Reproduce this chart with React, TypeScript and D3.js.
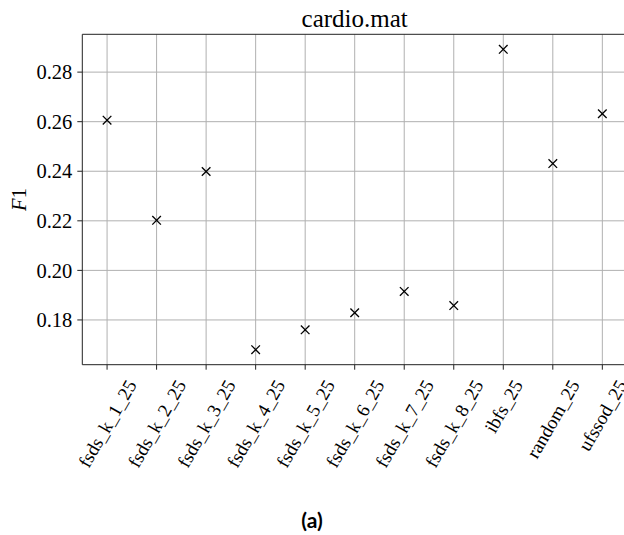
import React, { useEffect, useRef } from "react";
import * as d3 from "d3";

const categories = [
  "fsds_k_1_25",
  "fsds_k_2_25",
  "fsds_k_3_25",
  "fsds_k_4_25",
  "fsds_k_5_25",
  "fsds_k_6_25",
  "fsds_k_7_25",
  "fsds_k_8_25",
  "ibfs_25",
  "random_25",
  "ufssod_25",
];
const f1Values = [0.2606, 0.2202, 0.2399, 0.168, 0.176, 0.1829, 0.1915, 0.1858, 0.2892, 0.2431, 0.2632];
const yTicks = [0.18, 0.2, 0.22, 0.24, 0.26, 0.28];
const yTickLabels = ["0.18", "0.20", "0.22", "0.24", "0.26", "0.28"];
const title = "cardio.mat";
const caption = "(a)";

const W = 624;
const H = 535;
const left = 82.3;
const right = 627.1;
const top = 34.3;
const bottom = 364.7;
const SERIF = "Liberation Serif";

export default function App() {
  const ref = useRef<SVGSVGElement | null>(null);

  useEffect(() => {
    const svg = d3.select(ref.current);
    svg.selectAll("*").remove();

    const n = categories.length;
    const x = d3.scaleLinear().domain([-0.5, n - 0.5]).range([left, right]);
    const [mn, mx] = d3.extent(f1Values) as [number, number];
    const pad = (mx - mn) * 0.05;
    const y = d3.scaleLinear().domain([mn - pad, mx + pad]).range([bottom, top]);

    const g = svg.append("g");

    g.selectAll("line.gx")
      .data(categories)
      .enter()
      .append("line")
      .attr("x1", (_d, i) => x(i))
      .attr("x2", (_d, i) => x(i))
      .attr("y1", top)
      .attr("y2", bottom)
      .attr("stroke", "#b0b0b0")
      .attr("stroke-width", 1);
    g.selectAll("line.gy")
      .data(yTicks)
      .enter()
      .append("line")
      .attr("x1", left)
      .attr("x2", right)
      .attr("y1", (d) => y(d))
      .attr("y2", (d) => y(d))
      .attr("stroke", "#b0b0b0")
      .attr("stroke-width", 1);

    const spine = (x1: number, y1: number, x2: number, y2: number) =>
      g.append("line").attr("x1", x1).attr("x2", x2).attr("y1", y1).attr("y2", y2).attr("stroke", "#222").attr("stroke-width", 1);
    spine(left, top, left, bottom);
    spine(left, top, right, top);
    spine(left, bottom, right, bottom);
    spine(right, top, right, bottom);

    const tickLen = 5;
    yTicks.forEach((t, i) => {
      g.append("line").attr("x1", left - tickLen).attr("x2", left).attr("y1", y(t)).attr("y2", y(t)).attr("stroke", "#222").attr("stroke-width", 1);
      g.append("text")
        .attr("x", left - tickLen - 5)
        .attr("y", y(t) + 7.2)
        .attr("text-anchor", "end")
        .attr("font-family", SERIF)
        .attr("font-size", 20.5)
        .attr("fill", "#000")
        .text(yTickLabels[i]);
    });

    const fsX = 19;
    categories.forEach((c, i) => {
      const cx = x(i);
      g.append("line").attr("x1", cx).attr("x2", cx).attr("y1", bottom).attr("y2", bottom + tickLen).attr("stroke", "#222").attr("stroke-width", 1);
      const t = g
        .append("text")
        .attr("text-anchor", "middle")
        .attr("font-family", SERIF)
        .attr("font-size", fsX)
        .attr("fill", "#000")
        .text(c);
      const L = (t.node() as SVGTextElement).getComputedTextLength();
      const hInk = 0.72 * fsX;
      const bboxH = 0.866 * L + 0.5 * hInk;
      const cy = 378 + bboxH / 2;
      t.attr("x", 0).attr("y", 0.36 * fsX).attr("transform", `translate(${cx},${cy}) rotate(-60)`);
    });

    const s = 4.3;
    const m = g
      .selectAll("g.pt")
      .data(f1Values)
      .enter()
      .append("g")
      .attr("transform", (d, i) => `translate(${x(i)},${y(d)})`);
    m.append("line").attr("x1", -s).attr("y1", -s).attr("x2", s).attr("y2", s).attr("stroke", "#000").attr("stroke-width", 1.3);
    m.append("line").attr("x1", -s).attr("y1", s).attr("x2", s).attr("y2", -s).attr("stroke", "#000").attr("stroke-width", 1.3);

    g.append("text")
      .attr("x", (left + right) / 2)
      .attr("y", 27)
      .attr("text-anchor", "middle")
      .attr("font-family", SERIF)
      .attr("font-size", 25)
      .attr("fill", "#000")
      .text(title);

    const yl = g
      .append("text")
      .attr("transform", `translate(${26},${(top + bottom) / 2}) rotate(-90)`)
      .attr("text-anchor", "middle")
      .attr("font-family", SERIF)
      .attr("font-size", 20.5)
      .attr("fill", "#000");
    yl.append("tspan").attr("font-style", "italic").text("F");
    yl.append("tspan").text("1");

    g.append("text")
      .attr("x", W / 2)
      .attr("y", 528)
      .attr("text-anchor", "middle")
      .attr("font-family", "Lato")
      .attr("font-weight", "bold")
      .attr("font-size", 21)
      .attr("fill", "#000")
      .text(caption);
  }, []);

  return (
    <svg
      ref={ref}
      width={W}
      height={H}
      style={{ position: "absolute", left: 0, top: 0, background: "#fff" }}
    />
  );
}
